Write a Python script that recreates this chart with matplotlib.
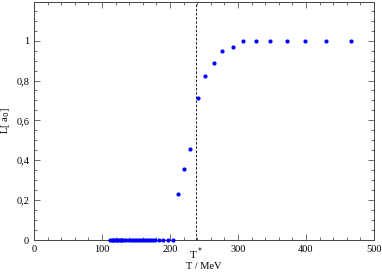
import numpy as np
import matplotlib
matplotlib.use("Agg")
import matplotlib.pyplot as plt
from matplotlib.ticker import MultipleLocator, FuncFormatter

plt.rcParams['font.family'] = ['Liberation Serif', 'DejaVu Serif']

# temperatures (MeV) and Polyakov loop values
T = [112, 114, 116, 118, 120, 122, 124, 126, 128, 130, 133, 136, 139, 142,
     145, 148, 151, 154, 157, 160, 163, 166, 169, 172, 175, 178, 184, 190,
     197, 204,
     212, 221, 230, 241, 251, 264, 277, 292, 308, 327, 347, 372, 398, 429, 466]
L = [0] * 30 + [0.232, 0.356, 0.455, 0.714, 0.822, 0.889, 0.946, 0.966,
                1.0, 1.0, 1.0, 1.0, 1.0, 1.0, 1.0]
T_star = 238

fig = plt.figure(figsize=(3.82, 2.72), dpi=100)
ax = fig.add_axes([0.089, 0.1176, 0.89, 0.876])

ax.plot(T, L, 'o', color='#0000ff', markersize=3.0, markeredgewidth=0,
        clip_on=False, zorder=3)
ax.axvline(T_star, color='black', linestyle=(0, (3, 2)), linewidth=0.6)

ax.set_xlim(0, 500)
ax.set_ylim(0, 1.195)
ax.xaxis.set_major_locator(MultipleLocator(100))
ax.xaxis.set_minor_locator(MultipleLocator(20))
ax.yaxis.set_major_locator(MultipleLocator(0.2))
ax.yaxis.set_minor_locator(MultipleLocator(0.05))
ax.yaxis.set_major_formatter(FuncFormatter(
    lambda v, p: '0' if abs(v) < 1e-9 else ('1' if abs(v - 1) < 1e-9 else
                                            ('%g' % v).replace('.', ','))))
ax.tick_params(which='both', direction='in', top=True, right=True,
               labelsize=7.5, width=0.6, color='#555555')
ax.tick_params(which='major', length=4)
ax.tick_params(which='minor', length=2)
for s in ax.spines.values():
    s.set_linewidth(0.7)
    s.set_color('#444444')

ax.text(T_star, -0.028, 'T$^*$', ha='center', va='top', fontsize=8,
        transform=ax.transData)
ax.set_xlabel('T / MeV', fontsize=7.5, labelpad=6)
ax.set_ylabel('L[ a$_0$]', fontsize=7.5, labelpad=3)

fig.savefig('out.png', dpi=100)
